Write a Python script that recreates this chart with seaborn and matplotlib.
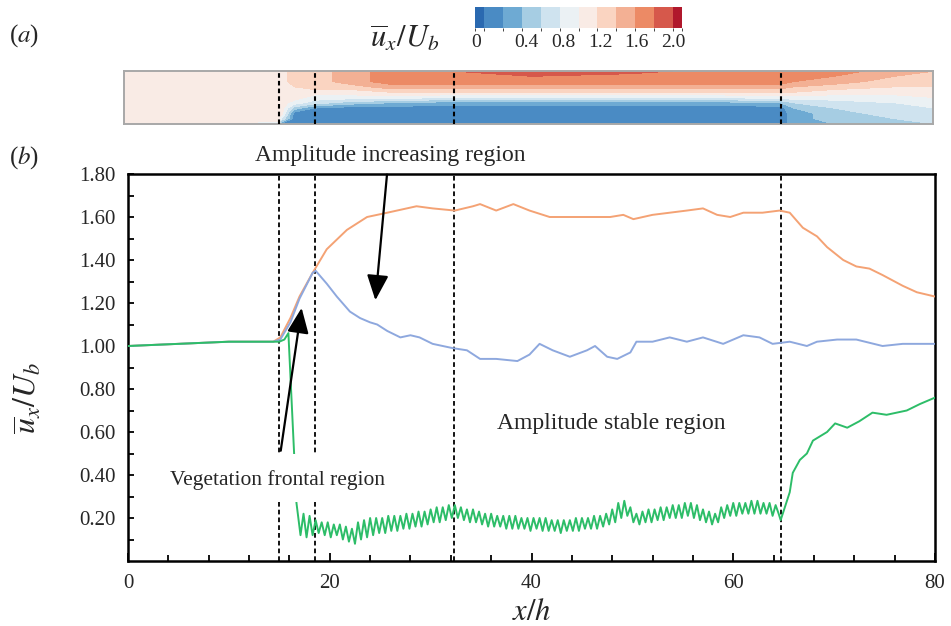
import numpy as np
import pandas as pd
import matplotlib
matplotlib.use("Agg")
import matplotlib.pyplot as plt
import seaborn as sns
from matplotlib.colors import ListedColormap, BoundaryNorm
from matplotlib.patches import Rectangle

# ---------------- data: panel (b) line profiles ----------------
orange_x = [0, 5, 10, 14.4, 15.1, 16.1, 17.0, 18.3, 19.7, 21.7, 23.7, 25.7, 28.6, 30.2, 32.4,
            34.2, 34.9, 36.5, 38.2, 39.8, 41.8, 43.8, 45.5, 47.8, 49.1, 50.1, 52.0, 53.7, 55.4,
            57.0, 58.4, 59.7, 61.0, 62.9, 64.6, 65.6, 66.9, 68.3, 69.3, 70.9, 72.2, 73.5, 74.8,
            76.8, 78.2, 80]
orange_y = [1.00, 1.01, 1.02, 1.02, 1.04, 1.13, 1.23, 1.34, 1.45, 1.54, 1.60, 1.62, 1.65, 1.64, 1.63,
            1.65, 1.66, 1.63, 1.66, 1.63, 1.60, 1.60, 1.60, 1.60, 1.61, 1.59, 1.61, 1.62, 1.63,
            1.64, 1.61, 1.60, 1.62, 1.62, 1.63, 1.62, 1.55, 1.51, 1.46, 1.40, 1.37, 1.36, 1.33,
            1.28, 1.25, 1.23]

blue_x = [0, 5, 10, 14.4, 15.1, 16.1, 17.0, 18.3, 18.6, 19.7, 20.7, 22.0, 23.0, 24.0, 24.7, 25.7,
          27.0, 28.0, 28.9, 30.2, 31.2, 32.2, 33.6, 34.9, 36.5, 38.6, 39.8, 40.8, 42.1, 43.8, 45.5,
          46.3, 47.5, 48.5, 49.8, 50.4, 52.0, 53.7, 55.4, 57.0, 59.0, 61.0, 62.6, 63.9, 65.6, 67.3,
          68.3, 70.3, 72.2, 74.8, 76.8, 80]
blue_y = [1.00, 1.01, 1.02, 1.02, 1.03, 1.11, 1.22, 1.34, 1.35, 1.29, 1.23, 1.16, 1.13, 1.11, 1.10, 1.07,
          1.04, 1.05, 1.04, 1.01, 1.00, 0.99, 0.98, 0.94, 0.94, 0.93, 0.96, 1.01, 0.98, 0.95, 0.98,
          1.00, 0.95, 0.94, 0.97, 1.02, 1.02, 1.04, 1.02, 1.04, 1.01, 1.05, 1.04, 1.01, 1.02, 1.00,
          1.02, 1.03, 1.03, 1.00, 1.01, 1.01]

green_front_x = [0, 5, 10, 14.5, 15.0, 15.5, 15.9, 16.7]
green_front_y = [1.00, 1.01, 1.02, 1.02, 1.02, 1.03, 1.06, 0.27]

green_canopy_x = [17.1, 17.4, 17.7, 18.0, 18.3, 18.6, 18.9, 19.2, 19.5, 19.8, 20.1, 20.4, 20.7, 21.0,
                  21.3, 21.6, 21.9, 22.2, 22.5, 22.8, 23.1, 23.4, 23.7, 24.0, 24.3, 24.6, 24.9, 25.2,
                  25.5, 25.8, 26.1, 26.4, 26.7, 27.0, 27.3, 27.6, 27.9, 28.2, 28.5, 28.8, 29.1, 29.4,
                  29.7, 30.0, 30.3, 30.6, 30.9, 31.2, 31.5, 31.8, 32.1, 32.4, 32.7, 33.0, 33.3, 33.6,
                  33.9, 34.2, 34.5, 34.8, 35.1, 35.4, 35.7, 36.0, 36.3, 36.6, 36.9, 37.2, 37.5, 37.8,
                  38.1, 38.4, 38.7, 39.0, 39.3, 39.6, 39.9, 40.2, 40.5, 40.8, 41.1, 41.4, 41.7, 42.0,
                  42.3, 42.6, 42.9, 43.2, 43.5, 43.8, 44.1, 44.4, 44.7, 45.0, 45.3, 45.6, 45.9, 46.2,
                  46.5, 46.8, 47.1, 47.4, 47.7, 48.0, 48.3, 48.6, 48.9, 49.2, 49.5, 49.8, 50.1, 50.4,
                  50.7, 51.0, 51.3, 51.6, 51.9, 52.2, 52.5, 52.8, 53.1, 53.4, 53.7, 54.0, 54.3, 54.6,
                  54.9, 55.2, 55.5, 55.8, 56.1, 56.4, 56.7, 57.0, 57.3, 57.6, 57.9, 58.2, 58.5, 58.8,
                  59.1, 59.4, 59.7, 60.0, 60.3, 60.6, 60.9, 61.2, 61.5, 61.8, 62.1, 62.4, 62.7, 63.0,
                  63.3, 63.6, 63.9, 64.2, 64.5]
green_canopy_y = [0.12, 0.22, 0.11, 0.21, 0.12, 0.19, 0.13, 0.18, 0.12, 0.18, 0.11, 0.17, 0.12, 0.17,
                  0.10, 0.16, 0.09, 0.15, 0.08, 0.18, 0.10, 0.19, 0.11, 0.20, 0.12, 0.20, 0.13, 0.20,
                  0.13, 0.21, 0.14, 0.21, 0.14, 0.21, 0.15, 0.22, 0.15, 0.22, 0.16, 0.23, 0.16, 0.23,
                  0.17, 0.24, 0.18, 0.25, 0.18, 0.25, 0.19, 0.26, 0.20, 0.26, 0.20, 0.25, 0.19, 0.24,
                  0.18, 0.24, 0.18, 0.23, 0.17, 0.22, 0.16, 0.22, 0.16, 0.21, 0.16, 0.21, 0.15, 0.21,
                  0.15, 0.21, 0.15, 0.20, 0.15, 0.20, 0.14, 0.20, 0.15, 0.20, 0.14, 0.20, 0.14, 0.19,
                  0.14, 0.19, 0.13, 0.19, 0.14, 0.19, 0.14, 0.20, 0.14, 0.20, 0.15, 0.20, 0.15, 0.21,
                  0.15, 0.21, 0.16, 0.22, 0.17, 0.24, 0.18, 0.27, 0.20, 0.28, 0.21, 0.25, 0.18, 0.22,
                  0.17, 0.23, 0.18, 0.24, 0.18, 0.24, 0.19, 0.25, 0.19, 0.25, 0.20, 0.26, 0.20, 0.26,
                  0.20, 0.27, 0.21, 0.27, 0.20, 0.26, 0.19, 0.24, 0.18, 0.23, 0.17, 0.22, 0.18, 0.25,
                  0.20, 0.26, 0.21, 0.27, 0.21, 0.27, 0.22, 0.27, 0.22, 0.28, 0.22, 0.28, 0.22, 0.27,
                  0.22, 0.27, 0.21, 0.26, 0.22]

green_wake_x = [64.7, 65.6, 65.9, 66.6, 67.3, 67.9, 69.3, 70.1, 71.3, 72.5, 73.8, 75.2, 77.2, 78.5, 80]
green_wake_y = [0.19, 0.32, 0.41, 0.47, 0.50, 0.56, 0.60, 0.64, 0.62, 0.65, 0.69, 0.68, 0.70, 0.73, 0.76]

region_bounds = [15.0, 18.5, 32.3, 64.7]

x_major_ticks = [0, 20, 40, 60, 80]
y_major_ticks = [0.2, 0.4, 0.6, 0.8, 1.0, 1.2, 1.4, 1.6, 1.8]

# ---------------- data: panel (a) mean streamwise velocity field ----------------
strip_x = [-0.5, 14.8, 15.2, 16.5, 18.5, 22, 26, 32, 40, 50, 58, 64.7, 66, 70, 76, 80]
strip_eta = [0.0, 0.1, 0.2, 0.3, 0.4, 0.5, 0.6, 0.7, 0.8, 0.9, 1.0]
strip_profiles = [
    [1.2, 1.2, 1.2, 1.2, 1.2, 1.2, 1.2, 1.2, 1.2, 1.2, 1.2],
    [1.0, 1.2, 1.2, 1.2, 1.2, 1.2, 1.2, 1.2, 1.2, 1.2, 1.2],
    [0.2, 0.9, 1.2, 1.2, 1.2, 1.2, 1.2, 1.2, 1.2, 1.2, 1.2],
    [0.2, 0.2, 0.2, 0.6, 1.0, 1.2, 1.2, 1.3, 1.4, 1.4, 1.4],
    [0.2, 0.2, 0.2, 0.3, 0.8, 1.0, 1.2, 1.4, 1.4, 1.4, 1.4],
    [0.2, 0.2, 0.2, 0.2, 0.6, 1.0, 1.2, 1.4, 1.6, 1.6, 1.6],
    [0.2, 0.2, 0.2, 0.2, 0.5, 1.0, 1.3, 1.6, 1.8, 1.8, 1.8],
    [0.2, 0.2, 0.2, 0.2, 0.4, 0.9, 1.3, 1.6, 1.8, 1.8, 1.9],
    [0.2, 0.2, 0.2, 0.2, 0.4, 0.9, 1.3, 1.6, 1.8, 1.9, 2.0],
    [0.2, 0.2, 0.2, 0.2, 0.4, 0.9, 1.3, 1.6, 1.8, 1.8, 2.0],
    [0.2, 0.2, 0.2, 0.2, 0.4, 0.9, 1.3, 1.6, 1.8, 1.8, 1.8],
    [0.2, 0.2, 0.2, 0.2, 0.5, 1.0, 1.3, 1.6, 1.8, 1.8, 1.8],
    [0.4, 0.4, 0.4, 0.5, 0.7, 1.0, 1.3, 1.5, 1.7, 1.8, 1.8],
    [0.5, 0.6, 0.6, 0.7, 0.8, 1.0, 1.2, 1.4, 1.6, 1.7, 1.8],
    [0.6, 0.7, 0.8, 0.8, 0.9, 1.0, 1.2, 1.3, 1.4, 1.5, 1.6],
    [0.7, 0.8, 0.8, 0.9, 1.0, 1.1, 1.2, 1.3, 1.4, 1.5, 1.5],
]
level_bounds = [0.0, 0.1, 0.3, 0.5, 0.7, 0.9, 1.1, 1.3, 1.5, 1.7, 1.9, 2.1, 2.2]
level_colors = ['#2a69b0', '#4a8bc4', '#6eaad3', '#a6cde3', '#cfe3ef', '#ebf1f4',
                '#f9ebe5', '#fad4c1', '#f3b094', '#ec8a65', '#d6584b', '#b0182c']
cbar_tick_labels = ["0", "0.4", "0.8", "1.2", "1.6", "2.0"]
cbar_tick_pos = [0.01, 0.55, 0.94, 1.33, 1.72, 2.11]

# ---------------- style ----------------
sns.set_style("ticks")
plt.rcParams['font.family'] = ['Liberation Serif', 'DejaVu Serif']
plt.rcParams['mathtext.fontset'] = 'stix'

W, H = 951, 626
fig = plt.figure(figsize=(W / 100, H / 100), dpi=100)

# ---------------- panel (b) ----------------
ax = fig.add_axes([128 / W, (H - 561) / H, 807 / W, 387 / H])

frames = [
    pd.DataFrame({"x": orange_x, "u": orange_y, "series": "top"}),
    pd.DataFrame({"x": blue_x, "u": blue_y, "series": "mid"}),
    pd.DataFrame({"x": green_front_x + green_canopy_x + green_wake_x,
                  "u": green_front_y + green_canopy_y + green_wake_y,
                  "series": "canopy"}),
]
df = pd.concat(frames, ignore_index=True)
palette = {"top": "#f4a274", "mid": "#8ea8de", "canopy": "#2dbd68"}
sns.lineplot(data=df, x="x", y="u", hue="series", hue_order=["top", "mid", "canopy"],
             palette=palette, estimator=None, sort=False, legend=False, lw=1.4, ax=ax, zorder=3)

for xb in region_bounds:
    ax.axvline(xb, color='black', lw=1.3, ls=(0, (2.6, 1.7)), zorder=2)

ax.set_xlim(0, 80)
ax.set_ylim(0, 1.8)
ax.set_xticks(x_major_ticks)
ax.set_xticks(np.arange(0, 81, 4), minor=True)
ax.set_yticks(y_major_ticks)
ax.set_yticklabels([f"{v:.2f}" for v in y_major_ticks])
ax.set_yticks(np.arange(0.1, 1.8, 0.1), minor=True)
ax.tick_params(axis='both', which='both', direction='in', width=1.3, labelsize=15, color='black')
ax.tick_params(axis='x', which='major', length=6, pad=9)
ax.tick_params(axis='x', which='minor', length=4.5)
ax.tick_params(axis='y', which='both', length=4.5, pad=9)
for s in ax.spines.values():
    s.set_linewidth(1.8)
    s.set_color('black')
ax.set_xlabel(r'$x/h$', fontsize=22, labelpad=4)
ax.set_ylabel('')
fig.text(28 / W, 1 - 398 / H, r'$\overline{u}_x/U_b$', fontsize=23, rotation=90,
         ha='center', va='center')

# white label box over the front region
ax.add_patch(Rectangle((3.7, 0.275), 22.3, 0.225, facecolor='white', edgecolor='none', zorder=4))
ax.text(14.8, 0.377, "Vegetation frontal region", fontsize=15.5, ha='center', va='center', zorder=5)
ax.text(47.9, 0.64, "Amplitude stable region", fontsize=17, ha='center', va='center', zorder=5)
ax.text(26.0, 1.885, "Amplitude increasing region", fontsize=17, ha='center', va='center',
        zorder=5, clip_on=False)
ax.annotate('', xy=(24.5, 1.20), xytext=(25.7, 1.81),
            arrowprops=dict(arrowstyle='-|>,head_length=0.7,head_width=0.3', color='black', lw=1.6,
                            mutation_scale=22),
            annotation_clip=False, zorder=6)
ax.annotate('', xy=(17.25, 1.19), xytext=(15.1, 0.50),
            arrowprops=dict(arrowstyle='-|>,head_length=0.7,head_width=0.3', color='black', lw=1.6,
                            mutation_scale=22),
            annotation_clip=False, zorder=6)

# ---------------- panel (a) ----------------
axs = fig.add_axes([124 / W, (H - 124) / H, 809 / W, 53 / H])
cmap = ListedColormap(level_colors)
norm = BoundaryNorm(level_bounds, cmap.N)
Z = np.array(strip_profiles).T
cf = axs.contourf(strip_x, strip_eta, Z, levels=level_bounds, cmap=cmap, norm=norm)
axs.set_xlim(-0.4, 79.8)
axs.set_ylim(0, 1)
for xb in region_bounds:
    axs.axvline(xb, color='black', lw=1.5, ls=(0, (2.2, 1.5)), zorder=3)
axs.set_xticks([])
axs.set_yticks([])
for s in axs.spines.values():
    s.set_color('#a8a8a8')
    s.set_linewidth(1.4)

cax = fig.add_axes([475 / W, (H - 28) / H, 207 / W, 21 / H])
cb = fig.colorbar(cf, cax=cax, orientation='horizontal', spacing='proportional')
cb.outline.set_visible(False)
cb.set_ticks(cbar_tick_pos)
cb.set_ticklabels(cbar_tick_labels)
cax.tick_params(length=0, labelsize=14, pad=4)
fig.text(405 / W, 1 - 38 / H, r'$\overline{u}_x/U_b$', fontsize=22, ha='center', va='center')

fig.text(24 / W, 1 - 36 / H, r'($a$)', fontsize=18, ha='center', va='center')
fig.text(24 / W, 1 - 158 / H, r'($b$)', fontsize=18, ha='center', va='center')

fig.savefig('out.png', dpi=100)
